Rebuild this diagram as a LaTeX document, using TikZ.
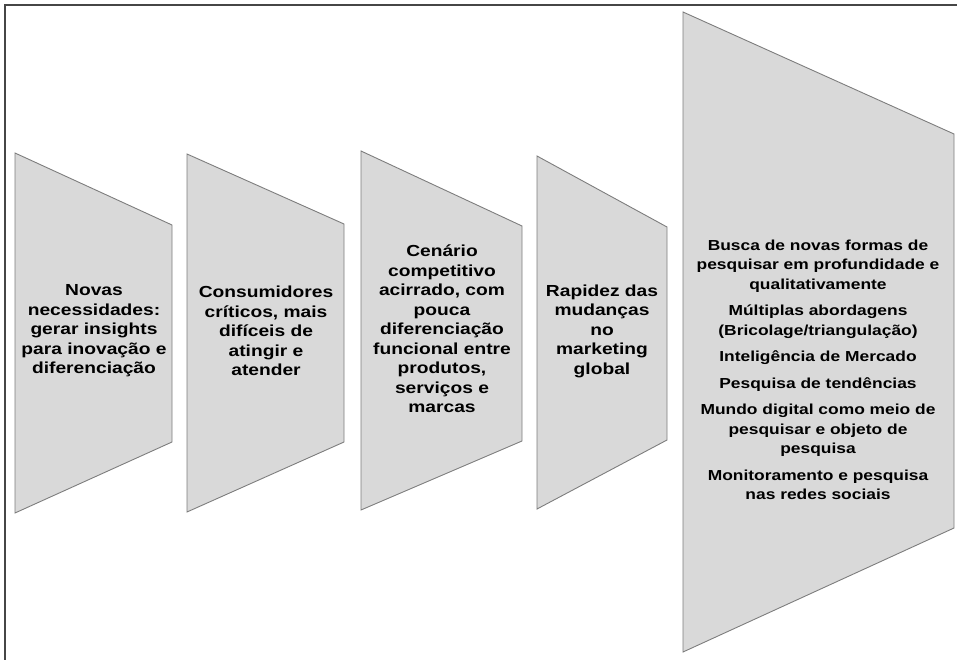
\documentclass[tikz,border=0pt]{standalone}
\usepackage{fontspec}
\newfontfamily\boxfont[FakeStretch=1.2]{Liberation Sans}
\definecolor{shapefill}{RGB}{217,217,217}
\definecolor{shapeedge}{RGB}{125,125,125}
\definecolor{frameline}{RGB}{70,70,70}
\begin{document}
\begin{tikzpicture}[x=1pt,y=-1pt,
  trap/.style={fill=shapefill,draw=shapeedge,line width=0.9pt,line join=miter},
  smalltxt/.style={align=center,inner sep=0pt,text=black,
    font=\boxfont\bfseries\fontsize{16}{19.5}\selectfont},
  bigtxt/.style={align=center,inner sep=0pt,text=black,
    font=\boxfont\bfseries\fontsize{14.5}{19.5}\selectfont}]
\useasboundingbox (0,0) rectangle (957,660);
% frame
\draw[frameline,line width=2pt] (957,5) -- (5,5) -- (5,660);
% shapes
\draw[trap] (15,153) -- (172,225) -- (172,442) -- (15,513) -- cycle;
\draw[trap] (187,154) -- (344,224) -- (344,442) -- (187,512) -- cycle;
\draw[trap] (361,151) -- (522,226) -- (522,441) -- (361,510) -- cycle;
\draw[trap] (537,156) -- (667,227) -- (667,440) -- (537,509) -- cycle;
\draw[trap] (683,12) -- (954,134) -- (954,528) -- (683,652) -- cycle;
% texts
\node[smalltxt] (t1) at (94,331) {Novas\\necessidades:\\gerar insights\\para inovação e\\diferenciação};
\node[smalltxt] (t2) at (266,331) {Consumidores\\críticos, mais\\difíceis de\\atingir e\\atender};
\node[smalltxt] (t3) at (442,329) {Cenário\\competitivo\\acirrado, com\\pouca\\diferenciação\\funcional entre\\produtos,\\serviços e\\marcas};
\node[smalltxt] (t4) at (602,331) {Rapidez das\\mudanças\\no\\marketing\\global};
\node[bigtxt] (t5) at (818,370) {Busca de novas formas de\\pesquisar em profundidade e\\qualitativamente\\[7pt]
Múltiplas abordagens\\(Bricolage/triangulação)\\[7pt]
Inteligência de Mercado\\[7pt]
Pesquisa de tendências\\[7pt]
Mundo digital como meio de\\pesquisar e objeto de\\pesquisa\\[7pt]
Monitoramento e pesquisa\\nas redes sociais};
\end{tikzpicture}
\end{document}
